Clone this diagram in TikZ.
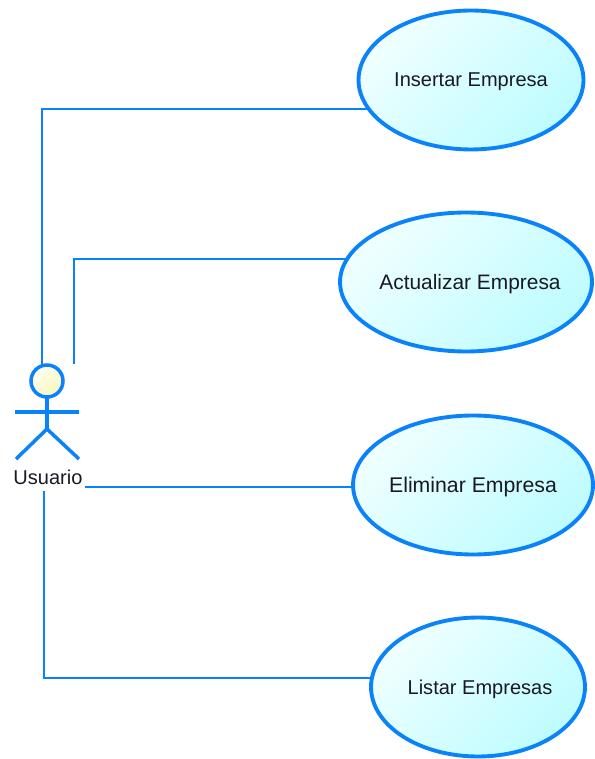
\documentclass[tikz,border=0pt]{standalone}
\usepackage{fontspec}
\setmainfont{Liberation Sans}
\usetikzlibrary{shapes.geometric}
\definecolor{umlblue}{RGB}{10,130,250}
\definecolor{casoa}{RGB}{240,255,255}
\definecolor{casob}{RGB}{190,252,255}
\definecolor{cabezaa}{RGB}{255,255,238}
\definecolor{cabezab}{RGB}{248,246,190}
\definecolor{textogris}{RGB}{25,25,35}
\begin{document}
\begin{tikzpicture}[x=0.02cm,y=0.02cm]
\tikzstyle{every node}+=[inner sep=0pt,outer sep=0pt,text=textogris,font=\fontsize{11.4}{13}\selectfont]
\tikzstyle{caso}=[ellipse,draw=umlblue,line width=2.2pt,left color=casoa,right color=casob,shading angle=45,minimum height=2.78cm,text depth=0pt]
\tikzstyle{cuerpo}=[draw=umlblue,line width=2pt]
\tikzstyle{asoc}=[draw=umlblue,line width=1.2pt]
\useasboundingbox (0,0) rectangle (594,-759);
\node [caso,minimum width=4.5cm] (insertar) at (471,-80) {Insertar Empresa};
\node [caso,minimum width=5.04cm,inner xsep=-0.2cm,font=\fontsize{11.9}{13}\selectfont] (actualizar) at (466,-282) {\hspace*{0.16cm}Actualizar Empresa};
\node [caso,minimum width=4.8cm,font=\fontsize{12.1}{13}\selectfont] (eliminar) at (473,-485) {Eliminar Empresa};
\node [caso,minimum width=4.28cm] (listar) at (478,-687) {\hspace*{0.08cm}Listar Empresas};
\node [circle,draw=umlblue,line width=2pt,left color=cabezaa,right color=cabezab,shading angle=45,minimum size=0.64cm] (cabeza) at (47,-381) {};
\node (usuario) at (48,-477) {Usuario};
\coordinate (cadera) at (47,-429);
\coordinate (brazoizq) at (15,-412);
\coordinate (brazoder) at (79,-412);
\coordinate (pieizq) at (16,-459);
\coordinate (pieder) at (79,-459);
\coordinate (salida1) at (42,-366);
\coordinate (salida2) at (74,-364);
\coordinate (salida3) at (85,-487);
\coordinate (salida4) at (44,-491);
\draw [cuerpo] (cabeza) -- (cadera);
\draw [cuerpo] (brazoizq) -- (brazoder);
\draw [cuerpo] (pieizq) -- (cadera) -- (pieder);
\draw [asoc] (salida1) |- (insertar.196);
\draw [asoc] (salida2) |- (actualizar.169);
\draw [asoc] (salida3) -- (eliminar.181 |- salida3);
\draw [asoc] (salida4) |- (listar.175);
\end{tikzpicture}
\end{document}
